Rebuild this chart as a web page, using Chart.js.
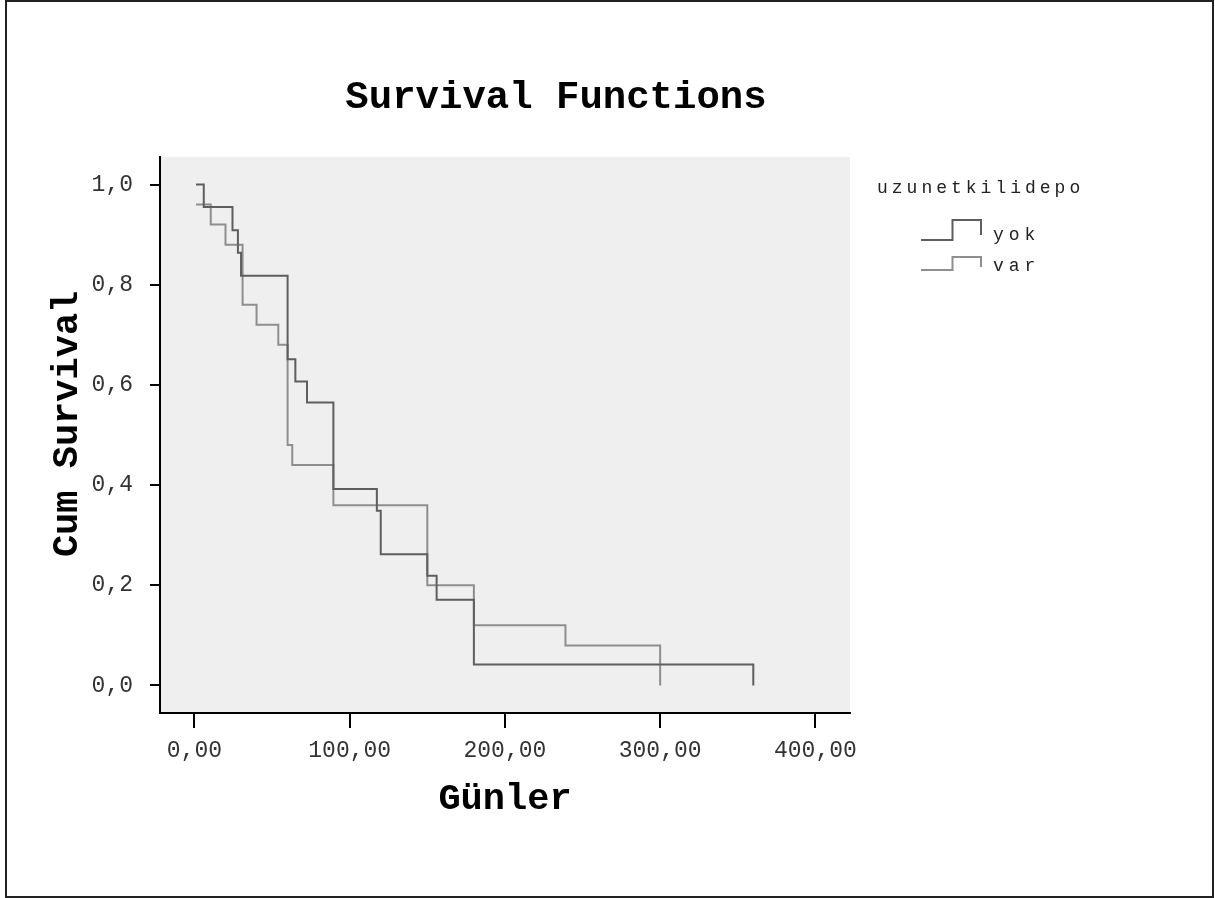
<!DOCTYPE html>
<html>
<head>
<meta charset="utf-8">
<script src="https://cdn.jsdelivr.net/npm/chart.js@4.4.0/dist/chart.umd.min.js"></script>
<style>
  html, body { margin: 0; padding: 0; background: #fff; }
  canvas { display: block; }
</style>
</head>
<body>
<canvas id="myChart" width="1215" height="898"></canvas>
<script>
// survival curves (time in days, cumulative survival)
var yokTimes = [1, 6, 24.5, 28, 30, 60, 65, 72.5, 89.5, 117.5, 120, 150, 156, 180, 360];
var yokSurv = [1.0, 0.955, 0.909, 0.864, 0.818, 0.651, 0.607, 0.565, 0.392, 0.349, 0.262, 0.219, 0.171, 0.042, 0];
var varTimes = [1, 10.5, 20, 31, 40, 54, 60, 63, 89.5, 150, 180, 239, 300];
var varSurv = [0.96, 0.92, 0.88, 0.76, 0.72, 0.68, 0.48, 0.44, 0.36, 0.2, 0.12, 0.08, 0];
var groupNames = ["yok", "var"];
var xTicks = [0, 100, 200, 300, 400];
var yTicks = [0, 0.2, 0.4, 0.6, 0.8, 1.0];

var darkLine = "#5e5e5e";
var lightLine = "#8e8e8e";
var monoFont = "'Liberation Mono', 'DejaVu Sans Mono', monospace";

function toPoints(times, surv) {
  return times.map(function (t, i) {
    return { x: t, y: surv[i] };
  });
}

// grey plot area + outer frame
var backdrop = {
  id: "backdrop",
  beforeDraw: function (chart) {
    var c = chart.ctx;
    var a = chart.chartArea;
    c.save();
    c.fillStyle = "#fff";
    c.fillRect(0, 0, chart.width, chart.height);
    c.fillStyle = "#efefef";
    c.fillRect(a.left, a.top, a.right - a.left, a.bottom - a.top);
    c.strokeStyle = "#222";
    c.lineWidth = 2;
    c.strokeRect(6, 1, 1207, 896);
    c.restore();
  },
};

// title and step-shaped legend like the SPSS output
var extras = {
  id: "extras",
  afterDraw: function (chart) {
    var c = chart.ctx;
    c.save();
    c.fillStyle = "#000";
    c.textAlign = "center";
    c.textBaseline = "alphabetic";
    c.font = "bold 39px " + monoFont;
    c.fillText("Survival Functions", 556, 108);

    c.textAlign = "left";
    c.fillStyle = "#222";
    c.font = "18px " + monoFont;
    c.letterSpacing = "4px";
    c.fillText("uzunetkilidepo", 877, 193);

    var items = [
      { name: groupNames[0], color: darkLine, base: 240, top: 220, end: 235, text: 240 },
      { name: groupNames[1], color: lightLine, base: 270, top: 257, end: 267, text: 271 },
    ];
    items.forEach(function (it) {
      c.strokeStyle = it.color;
      c.lineWidth = 2;
      c.beginPath();
      c.moveTo(921, it.base);
      c.lineTo(952.5, it.base);
      c.lineTo(952.5, it.top);
      c.lineTo(981, it.top);
      c.lineTo(981, it.end);
      c.stroke();
      c.letterSpacing = "5px";
      c.fillText(it.name, 993, it.text);
    });
    c.restore();
  },
};

var ctx = document.getElementById("myChart").getContext("2d");
var myChart = new Chart(ctx, {
  type: "line",
  data: {
    datasets: [
      {
        label: groupNames[0],
        data: toPoints(yokTimes, yokSurv),
        borderColor: darkLine,
        borderWidth: 2,
        stepped: true,
        pointRadius: 0,
        fill: false,
      },
      {
        label: groupNames[1],
        data: toPoints(varTimes, varSurv),
        borderColor: lightLine,
        borderWidth: 2,
        stepped: true,
        pointRadius: 0,
        fill: false,
      },
    ],
  },
  options: {
    responsive: false,
    animation: false,
    devicePixelRatio: 1,
    layout: { padding: { top: 157, right: 365, bottom: 0, left: 0 } },
    plugins: {
      legend: { display: false },
      title: { display: false },
      tooltip: { enabled: false },
    },
    scales: {
      x: {
        type: "linear",
        min: -22.2,
        max: 422.3,
        afterBuildTicks: function (s) {
          s.ticks = xTicks.map(function (v) { return { value: v }; });
        },
        afterFit: function (s) { s.height = 185; },
        ticks: {
          autoSkip: false,
          maxRotation: 0,
          padding: 9,
          color: "#333",
          font: { family: monoFont, size: 23 },
          callback: function (v) { return Number(v).toFixed(2).replace(".", ","); },
        },
        grid: {
          drawOnChartArea: false,
          drawTicks: true,
          tickLength: 15,
          color: "#000",
          lineWidth: 2,
        },
        border: { display: true, color: "#000", width: 2 },
        title: {
          display: true,
          text: "Günler",
          color: "#000",
          font: { family: monoFont, size: 37, weight: "bold" },
          padding: { top: 0, bottom: 76 },
        },
      },
      y: {
        min: -0.055,
        max: 1.055,
        afterBuildTicks: function (s) {
          s.ticks = yTicks.map(function (v) { return { value: v }; });
        },
        afterFit: function (s) { s.width = 160; },
        ticks: {
          padding: 17,
          color: "#333",
          font: { family: monoFont, size: 23 },
          callback: function (v) { return Number(v).toFixed(1).replace(".", ","); },
        },
        grid: {
          drawOnChartArea: false,
          drawTicks: true,
          tickLength: 10,
          color: "#000",
          lineWidth: 2,
        },
        border: { display: true, color: "#000", width: 2 },
        title: {
          display: true,
          text: " Cum Survival",
          color: "#000",
          font: { family: monoFont, size: 37, weight: "bold" },
          padding: { top: 45, bottom: 0 },
        },
      },
    },
  },
  plugins: [backdrop, extras],
});
</script>
</body>
</html>
